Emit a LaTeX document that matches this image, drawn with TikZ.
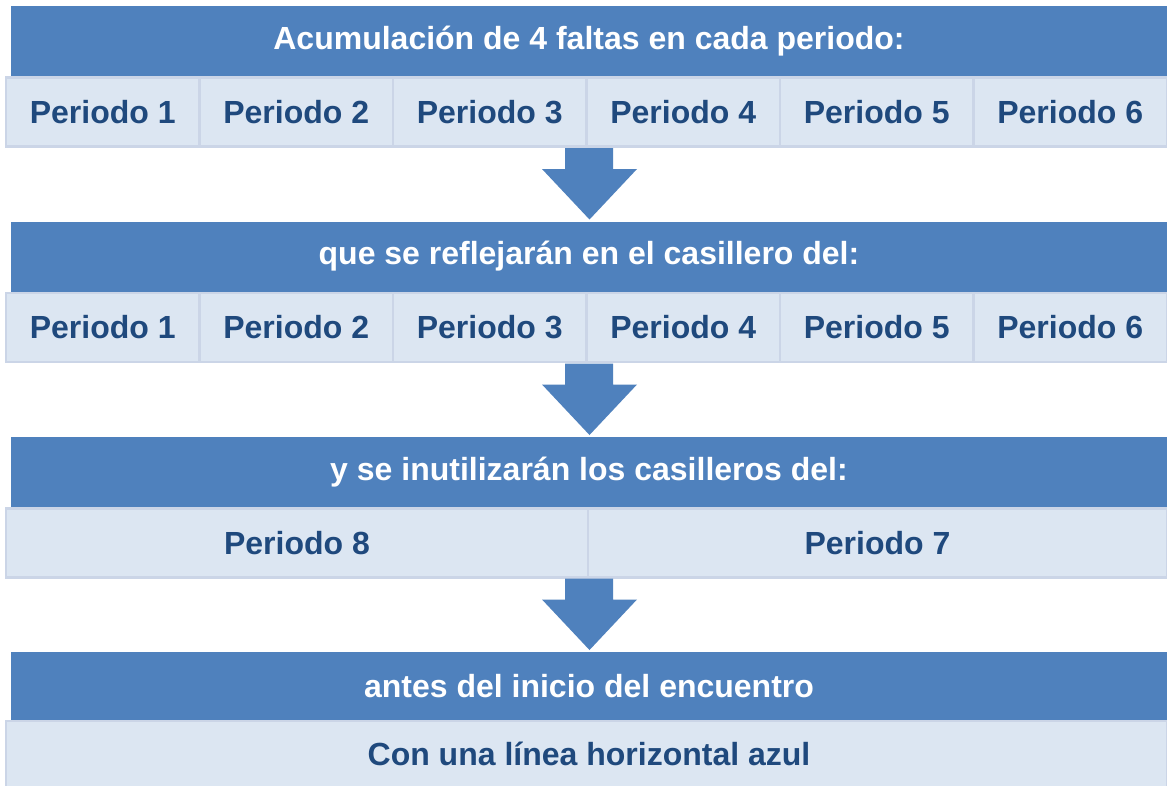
\documentclass[tikz,border=0pt]{standalone}
\usepackage{fontspec}
\setmainfont{Liberation Sans}
\definecolor{bandblue}{HTML}{4F81BD}
\definecolor{cellfill}{HTML}{DCE6F2}
\definecolor{cellline}{HTML}{CBD5E7}
\definecolor{celltext}{HTML}{1F497D}
\tikzset{
  band/.style={fill=bandblue, draw=none, inner sep=0pt, outer sep=0pt, anchor=north west,
    minimum width=1156pt, minimum height=70pt, text=white,
    font=\fontsize{32}{36}\selectfont\bfseries},
  cell/.style={fill=cellfill, draw=cellline, line width=2.5pt, inner sep=0pt, outer sep=0pt,
    anchor=north west, minimum height=69pt, text=celltext,
    font=\fontsize{32}{36}\selectfont\bfseries},
  blockarrow/.style={fill=bandblue, draw=none}
}
\begin{document}
\begin{tikzpicture}[x=1pt,y=-1pt]
\clip (0,0) rectangle (1167,785);
\fill[white] (0,0) rectangle (1167,785);
% band 1
\node[band] (b1) at (11,6) {Acumulación de 4 faltas en cada periodo:};
\foreach \i in {1,...,6}{
  \node[cell, minimum width=193.5pt] (ra\i) at ({6+193.5*(\i-1)},77.5) {Periodo \i};
}
% band 2
\node[band] (b2) at (11,221.5) {que se reflejarán en el casillero del:};
\foreach \i in {1,...,6}{
  \node[cell, minimum width=193.5pt] (rb\i) at ({6+193.5*(\i-1)},293) {Periodo \i};
}
% band 3
\node[band] (b3) at (11,437) {y se inutilizarán los casilleros del:};
\node[cell, minimum width=582pt] (rc1) at (6,508.5) {Periodo 8};
\node[cell, minimum width=579pt] (rc2) at (588,508.5) {Periodo 7};
% band 4
\node[band, minimum height=69pt] (b4) at (11,651.5) {antes del inicio del encuentro};
\node[cell, minimum width=1161pt, minimum height=80pt, anchor=north west] (rd) at (6,721) {};
\node[text=celltext, font=\fontsize{32}{36}\selectfont\bfseries] (rdt) at (589,754) {Con una línea horizontal azul};
% block arrows
\foreach \t in {148,363.5,578.5}{
  \fill[blockarrow] (565,\t) -- (613,\t) -- (613,\t+21) -- (637,\t+21) -- (589.5,\t+71.5)
    -- (542,\t+21) -- (565,\t+21) -- cycle;
}
\end{tikzpicture}
\end{document}
